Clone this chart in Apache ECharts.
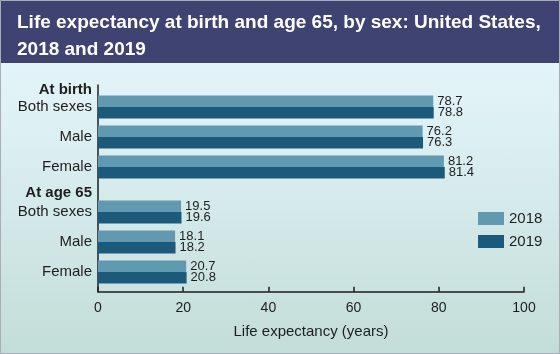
<!DOCTYPE html>
<html>
<head>
<meta charset="utf-8">
<script src="https://cdn.jsdelivr.net/npm/echarts@6/dist/echarts.min.js"></script>
<style>
  html, body { margin: 0; padding: 0; }
  #chart {
    width: 560px;
    height: 354px;
    background: linear-gradient(#e3f4f9 0px, #e3f4f9 63px, #dceff2 140px, #c3ddd8 354px);
  }
</style>
</head>
<body>
<div id="chart"></div>
<script>
// 数据
const groups = ['At birth', 'At age 65']
const categories = ['Both sexes', 'Male', 'Female']
const years = ['2018', '2019']
const values2018 = [78.7, 76.2, 81.2, 19.5, 18.1, 20.7]
const values2019 = [78.8, 76.3, 81.4, 19.6, 18.2, 20.8]

const plain = '"Liberation Sans", Arial, sans-serif'

// 组装行：每组一个标题行，每个类别后面留一个空行
const rows = []
const headerRows = {}
const s2018 = []
const s2019 = []
let k = 0
groups.forEach((g, gi) => {
  headerRows[rows.length] = gi
  rows.push(g)
  s2018.push(null)
  s2019.push(null)
  categories.forEach(c => {
    rows.push(c)
    s2018.push(values2018[k])
    s2019.push(values2019[k])
    k++
    rows.push('')
    s2018.push(null)
    s2019.push(null)
  })
})

const chart = echarts.init(document.getElementById('chart'), null, { renderer: 'canvas' })

const valueLabel = {
  show: true,
  position: 'right',
  distance: 4,
  fontFamily: plain,
  fontSize: 13,
  color: '#1e1e1e',
  formatter: p => p.value.toFixed(1)
}

const option = {
  animation: false,
  graphic: [
    {
      type: 'rect',
      shape: { x: 0, y: 0, width: 560, height: 63 },
      style: { fill: '#3e4372' },
      z: -1
    },
    {
      type: 'rect',
      shape: { x: 0.5, y: 0.5, width: 559, height: 353 },
      style: { fill: null, stroke: '#a9adb8', lineWidth: 1 },
      z: 100
    }
  ],
  title: {
    text: 'Life expectancy at birth and age 65, by sex: United States,\n2018 and 2019',
    left: 12,
    top: 4,
    textStyle: {
      color: '#ffffff',
      fontFamily: plain,
      fontWeight: 'bold',
      fontSize: 19,
      lineHeight: 27
    }
  },
  legend: {
    data: years,
    orient: 'vertical',
    left: 473,
    top: 206,
    itemWidth: 26,
    itemHeight: 13,
    itemGap: 8,
    icon: 'rect',
    textStyle: { fontFamily: plain, fontSize: 15, color: '#1e1e1e' }
  },
  grid: [
    // 柱子所在网格
    { left: 98, right: 36, top: 84.4, height: 210 },
    // 坐标轴网格
    { left: 98, right: 36, top: 85, bottom: 62.3 }
  ],
  xAxis: [
    { gridIndex: 0, type: 'value', min: 0, max: 100, show: false },
    {
      gridIndex: 1,
      type: 'value',
      min: 0,
      max: 100,
      interval: 20,
      name: 'Life expectancy (years)',
      nameLocation: 'middle',
      nameGap: 33,
      nameTextStyle: { fontFamily: plain, fontSize: 15, color: '#1e1e1e' },
      axisLine: { show: true, lineStyle: { color: '#1e1e1e', width: 1.5 } },
      axisTick: { show: true, inside: true, length: 5, lineStyle: { color: '#1e1e1e', width: 1.5 } },
      axisLabel: { margin: 9, fontFamily: plain, fontSize: 14, color: '#1e1e1e' },
      splitLine: { show: false }
    }
  ],
  yAxis: [
    {
      gridIndex: 0,
      type: 'category',
      inverse: true,
      data: rows,
      axisLine: { show: false },
      axisTick: { show: false },
      axisLabel: {
        margin: 6,
        interval: 0,
        fontFamily: plain,
        fontSize: 15,
        color: '#1e1e1e',
        formatter: (v, i) => headerRows[i] === undefined ? v : `{h${headerRows[i]}|${v}}`,
        rich: {
          h0: { fontFamily: plain, fontSize: 15, fontWeight: 'bold', color: '#1e1e1e', padding: [0, 0, 4, 0] },
          h1: { fontFamily: plain, fontSize: 15, fontWeight: 'bold', color: '#1e1e1e', padding: [0, 0, 8, 0] }
        }
      }
    },
    {
      gridIndex: 1,
      type: 'value',
      axisLine: { show: true, onZero: false, lineStyle: { color: '#1e1e1e', width: 1.5 } },
      axisTick: { show: false },
      axisLabel: { show: false },
      splitLine: { show: false }
    }
  ],
  series: [
    {
      name: years[0],
      type: 'bar',
      xAxisIndex: 0,
      yAxisIndex: 0,
      data: s2018,
      barWidth: 11.5,
      barGap: '0%',
      itemStyle: { color: '#6199b0' },
      label: valueLabel
    },
    {
      name: years[1],
      type: 'bar',
      xAxisIndex: 0,
      yAxisIndex: 0,
      data: s2019,
      barWidth: 11.5,
      barGap: '0%',
      itemStyle: { color: '#1c5a7b' },
      label: valueLabel
    }
  ]
}

chart.setOption(option)
</script>
</body>
</html>
